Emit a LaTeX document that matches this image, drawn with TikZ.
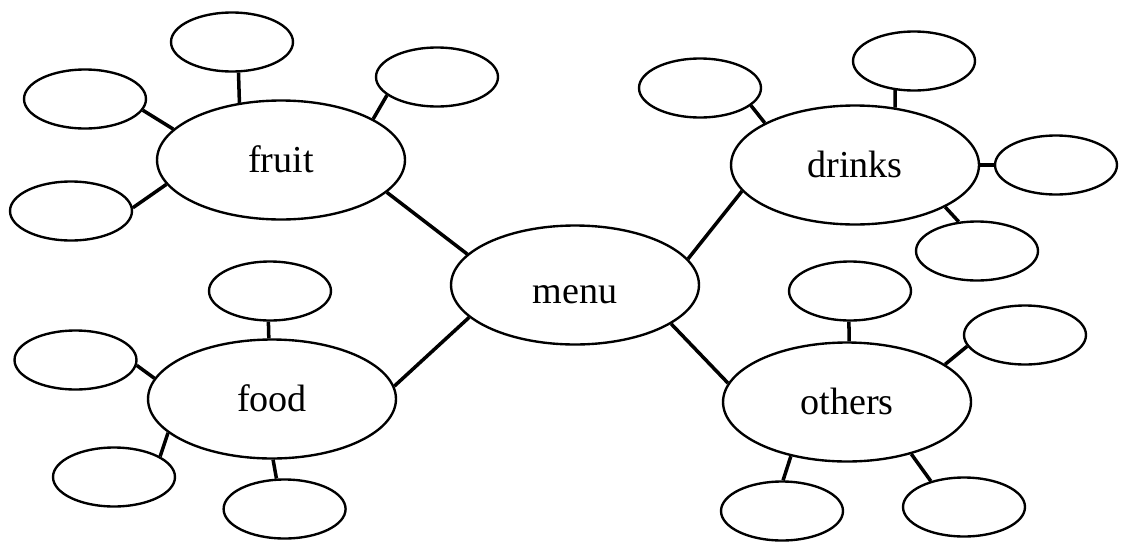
\documentclass[tikz,border=0pt]{standalone}
\usepackage{fontspec}
\setmainfont{Liberation Serif}
\usetikzlibrary{shapes.geometric}
\begin{document}
\begin{tikzpicture}[x=0.02cm,y=-0.02cm,
  big/.style={ellipse, draw, line width=1.35pt, minimum width=4.96cm, minimum height=2.38cm,
    inner sep=0pt, font=\fontsize{21.7}{26}\selectfont, text height=0.48cm, text depth=0cm},
  small/.style={ellipse, draw, line width=1.35pt, minimum width=2.44cm, minimum height=1.18cm, inner sep=0pt},
  link/.style={line width=2pt}]
\useasboundingbox (0,0) rectangle (1125,548);
% main nodes
\node[big, text height=0.72cm] (menu) at (575,285) {menu};
\node[big] (fruit) at (281,160) {fruit};
\node[big] (drinks) at (855,165) {drinks};
\node[big] (food) at (272,399) {food};
\node[big] (others) at (847,402) {others};
% fruit group
\node[small] (f1) at (232,42) {};
\node[small] (f2) at (437,77) {};
\node[small] (f3) at (85,99) {};
\node[small] (f4) at (71,211) {};
% drinks group
\node[small] (d1) at (700,88) {};
\node[small] (d2) at (914,61) {};
\node[small] (d3) at (1056,165) {};
\node[small] (d4) at (977,251) {};
% food group
\node[small] (o1) at (270,291) {};
\node[small] (o2) at (75.5,360) {};
\node[small] (o3) at (114,477) {};
\node[small] (o4) at (284.6,509) {};
% others group
\node[small] (t1) at (850,291) {};
\node[small] (t2) at (1025,335) {};
\node[small] (t3) at (782,511) {};
\node[small] (t4) at (964,507) {};
% connectors
\draw[link] (fruit.126.6) -- (f1.282.4);
\draw[link] (fruit.24.5) -- (f2.200.4);
\draw[link] (fruit.164.7) -- (f3.349.3);
\draw[link] (fruit.192.3) -- (f4.3.8);
\draw[link] (fruit.343.2) -- (menu.164);
\draw[link] (drinks.155.6) -- (d1.341.2);
\draw[link] (drinks.55) -- (d2.237.7);
\draw[link] (drinks.0) -- (d3.180);
\draw[link] (drinks.335.4) -- (d4.122.7);
\draw[link] (drinks.193.8) -- (menu.13.6);
\draw[link] (food.93.3) -- (o1.267.1);
\draw[link] (food.170.7) -- (o2.355.2);
\draw[link] (food.198.9) -- (o3.24.2);
\draw[link] (food.271) -- (o4.105.1);
\draw[link] (food.6.7) -- (menu.197.8);
\draw[link] (others.88) -- (t1.268);
\draw[link] (others.21.2) -- (t2.191.3);
\draw[link] (others.224) -- (t3.88.1);
\draw[link] (others.321.5) -- (t4.142.9);
\draw[link] (others.171.7) -- (menu.338.6);
\end{tikzpicture}
\end{document}
